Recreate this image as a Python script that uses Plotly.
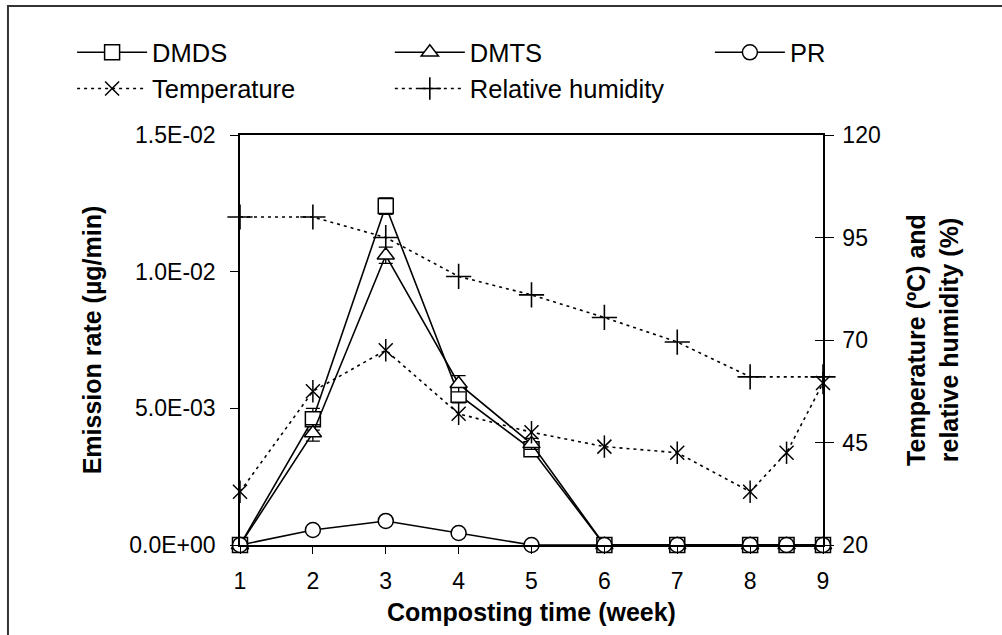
import plotly.graph_objects as go

# ---------------- data ----------------
weeks = [1, 2, 3, 4, 5, 6, 7, 8, 8.5, 9]
dmds = [0, 0.0046, 0.0124, 0.0055, 0.0035, 0, 0, 0, 0, 0]
dmds_err = [0, 0.0004, 0.0003, 0.0003, 0.0002, 0, 0, 0, 0, 0]
dmts = [0, 0.0041, 0.0106, 0.0059, 0.0037, 0, 0, 0, 0, 0]
dmts_err = [0, 0.0003, 0.0003, 0.0003, 0.0002, 0, 0, 0, 0, 0]
pr = [0, 0.00055, 0.00088, 0.00044, 0, 0, 0, 0, 0, 0]

temp_weeks = [1, 2, 3, 4, 5, 6, 7, 8, 8.5, 9]
temperature = [33, 57.5, 67.5, 52, 47.5, 44, 42.5, 33, 42.5, 59.5]

rh_weeks = [1, 2, 3, 4, 5, 6, 7, 8, 9]
humidity = [100, 100, 95, 85.5, 81, 75.5, 69.5, 61, 61]

x_ticks = [1, 2, 3, 4, 5, 6, 7, 8, 9]
y_tick_vals = [0, 0.005, 0.01, 0.015]
y_tick_labels = ["0.0E+00", "5.0E-03", "1.0E-02", "1.5E-02"]
y2_tick_vals = [20, 45, 70, 95, 120]

FONT = "Liberation Sans, Arial, sans-serif"
BLACK = "#000000"
TICK_SIZE = 23
LEG_SIZE = 25.5
TITLE_SIZE = 25

fig = go.Figure()

def solid(name, x, y, symbol, err=None, legend="legend"):
    kw = {}
    if err is not None:
        kw["error_y"] = dict(type="data", array=err, visible=True, color=BLACK,
                             thickness=1.3, width=7)
    fig.add_trace(go.Scatter(
        x=x, y=y, name=name, mode="lines+markers", legend=legend,
        line=dict(color=BLACK, width=1.6),
        marker=dict(symbol=symbol, size=15, color="white",
                    line=dict(color=BLACK, width=1.5)),
        cliponaxis=False, **kw))

solid("DMDS", weeks, dmds, "square", dmds_err, "legend")
solid("DMTS", weeks, dmts, "triangle-up", dmts_err, "legend2")
solid("PR", weeks, pr, "circle", None, "legend3")

fig.add_trace(go.Scatter(
    x=temp_weeks, y=temperature, name="Temperature", yaxis="y2",
    mode="lines+markers", legend="legend",
    line=dict(color=BLACK, width=1.6, dash="3px,4px"),
    marker=dict(symbol="x-thin-open", size=14, color=BLACK,
                line=dict(color=BLACK, width=1.5)),
    cliponaxis=False))
fig.add_trace(go.Scatter(
    x=temp_weeks, y=temperature, yaxis="y2", mode="markers", showlegend=False,
    marker=dict(symbol="line-ns-open", size=16, color=BLACK,
                line=dict(color=BLACK, width=1.5)),
    cliponaxis=False, hoverinfo="skip"))

fig.add_trace(go.Scatter(
    x=rh_weeks, y=humidity, name="Relative humidity", yaxis="y2",
    mode="lines+markers", legend="legend2",
    line=dict(color=BLACK, width=1.6, dash="3px,4px"),
    marker=dict(symbol="cross-thin-open", size=18, color=BLACK,
                line=dict(color=BLACK, width=1.6)),
    cliponaxis=False))

tickfont = dict(family=FONT, size=TICK_SIZE, color=BLACK)
titlefont = dict(family=FONT, size=TITLE_SIZE, color=BLACK, weight="bold")
legfont = dict(family=FONT, size=LEG_SIZE, color=BLACK)

def leg(x):
    return dict(x=x, y=1.258, xanchor="left", yanchor="top", orientation="v",
                font=legfont, bgcolor="rgba(0,0,0,0)", itemwidth=70,
                tracegroupgap=0)

fig.update_layout(
    width=1002, height=635,
    margin=dict(l=240, r=179, t=135, b=90),
    paper_bgcolor="white", plot_bgcolor="white",
    font=dict(family=FONT, color=BLACK),
    showlegend=True,
    legend=leg(-0.288),
    legend2=leg(0.257),
    legend3=leg(0.806),
    xaxis=dict(range=[1, 9], tickvals=x_ticks, ticks="outside", ticklen=7,
               tickwidth=1.2, tickcolor=BLACK, showgrid=False, zeroline=False,
               showline=True, linecolor=BLACK, linewidth=1.5, mirror=True,
               tickfont=tickfont, ticklabelstandoff=8,
               title=dict(text="Composting time (week)", font=titlefont,
                          standoff=10)),
    yaxis=dict(range=[0, 0.015], tickvals=y_tick_vals, ticktext=y_tick_labels,
               ticks="outside", ticklen=8, tickwidth=1.2, tickcolor=BLACK,
               showgrid=False, zeroline=False, showline=True, linecolor=BLACK,
               linewidth=1.5, tickfont=tickfont, ticklabelstandoff=10,
               title=dict(text="Emission rate (µg/min)", font=titlefont,
                          standoff=21)),
    yaxis2=dict(range=[20, 120], tickvals=y2_tick_vals, overlaying="y",
                side="right", ticks="outside", ticklen=9, tickwidth=1.2,
                tickcolor=BLACK, showgrid=False, zeroline=False, showline=True,
                linecolor=BLACK, linewidth=1.5, tickfont=tickfont,
                ticklabelstandoff=4,
                title=dict(text="Temperature (ºC) and<br>relative humidity (%)",
                           font=titlefont, standoff=28)),
    yaxis3=dict(range=[20, 120], tickvals=y2_tick_vals, overlaying="y",
                side="right", ticks="inside", ticklen=8, tickwidth=1.2,
                tickcolor=BLACK, showticklabels=False, showgrid=False,
                zeroline=False, showline=False),
    shapes=[dict(type="rect", xref="paper", yref="paper",
                 x0=-0.398, x1=2.0, y0=-1.0, y1=1.3146,
                 line=dict(color="#333333", width=2), layer="below")],
)

# invisible trace so the inner tick marks of the right axis are drawn
fig.add_trace(go.Scatter(x=[None], y=[None], yaxis="y3", showlegend=False,
                         hoverinfo="skip"))

fig.write_html("out.html")
